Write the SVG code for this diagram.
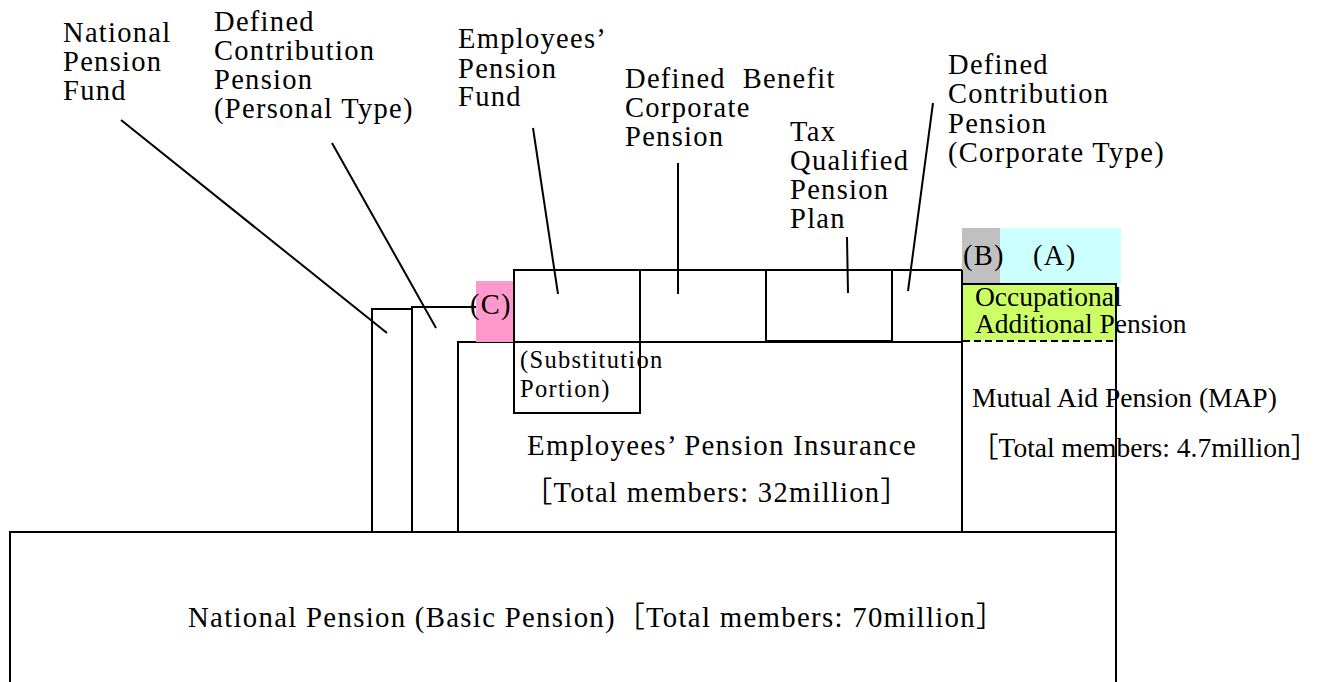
<svg xmlns="http://www.w3.org/2000/svg" width="1323" height="682" viewBox="0 0 1323 682">
<style>
.box{fill:none;stroke:#000;stroke-width:2}
.wbox{fill:#fff;stroke:#000;stroke-width:2}
.ln{stroke:#000;stroke-width:2;fill:none}
.c{font-family:"Liberation Serif","Noto Sans CJK JP",serif;font-size:28.5px;letter-spacing:1.3px;fill:#000}
.t{font-family:"Liberation Serif","Noto Sans CJK JP",serif;font-size:27.5px;fill:#000}
.s{font-family:"Liberation Serif","Noto Sans CJK JP",serif;font-size:24.5px;letter-spacing:1.3px;fill:#000}
</style>
<rect width="1323" height="682" fill="#fff"/>

<g id="national-pension">
<rect class="box" x="10" y="532" width="1106" height="160"/>
<text class="c" x="188" y="627" textLength="818" lengthAdjust="spacingAndGlyphs">National Pension (Basic Pension)［Total members: 70million］</text>
</g>

<g id="national-pension-fund">
<rect class="box" x="372" y="309" width="40" height="223"/>
</g>

<g id="dc-personal">
<polyline class="ln" points="412,532 412,307 476,307"/>
</g>

<g id="employees-pension-insurance">
<rect class="wbox" x="458" y="342" width="504" height="190"/>
<text class="c" x="527" y="455" textLength="390" lengthAdjust="spacingAndGlyphs">Employees’ Pension Insurance</text>
<text class="c" x="717" y="502" text-anchor="middle">［Total members: 32million］</text>
</g>

<g id="label-c">
<rect x="476" y="281" width="38" height="61" fill="#FF99CC"/>
<text class="c" x="470" y="314">(C)</text>
</g>

<g id="employees-pension-fund">
<rect class="box" x="514" y="270" width="126" height="72"/>
</g>
<g id="substitution-portion">
<rect class="box" x="514" y="342" width="126" height="71"/>
<text class="s" x="520" y="368">(Substitution</text>
<text class="s" x="520" y="397">Portion)</text>
</g>
<g id="defined-benefit">
<rect class="box" x="640" y="270" width="126" height="72"/>
</g>
<g id="tax-qualified">
<rect class="box" x="766" y="270" width="126" height="71"/>
</g>
<g id="dc-corporate">
<rect class="box" x="892" y="270" width="70" height="72"/>
</g>

<g id="mutual-aid-pension">
<rect x="963" y="284" width="153" height="57" fill="#CCFF66"/>
<rect x="962" y="228" width="38" height="56" fill="#C0C0C0"/>
<rect x="1000" y="228" width="121" height="56" fill="#CCFFFF"/>
<text class="c" x="963" y="265">(B)</text>
<text class="c" x="1033" y="265">(A)</text>
<polyline class="ln" points="962,270 962,532"/>
<polyline class="ln" points="962,284 1116,284 1116,532 962,532"/>
<line class="ln" x1="963" y1="341" x2="1116" y2="341" stroke-dasharray="7,4"/>
<text class="t" x="975" y="306">Occupational</text>
<text class="t" x="975" y="333">Additional Pension</text>
<text class="t" x="972" y="407">Mutual Aid Pension (MAP)</text>
<text class="t" x="971" y="457">［Total members: 4.7million］</text>
</g>

<g id="labels">
<text class="c"><tspan x="63" y="42">National</tspan><tspan x="63" y="71">Pension</tspan><tspan x="63" y="100">Fund</tspan></text>
<text class="c"><tspan x="214" y="31">Defined</tspan><tspan x="214" y="60">Contribution</tspan><tspan x="214" y="89">Pension</tspan><tspan x="214" y="118">(Personal Type)</tspan></text>
<text class="c"><tspan x="458" y="48">Employees’</tspan><tspan x="458" y="78">Pension</tspan><tspan x="458" y="106">Fund</tspan></text>
<text class="c" style="white-space:pre"><tspan x="625" y="88">Defined  Benefit</tspan><tspan x="625" y="117">Corporate</tspan><tspan x="625" y="146">Pension</tspan></text>
<text class="c"><tspan x="790" y="141">Tax</tspan><tspan x="790" y="170">Qualified</tspan><tspan x="790" y="199">Pension</tspan><tspan x="790" y="228">Plan</tspan></text>
<text class="c"><tspan x="948" y="74">Defined</tspan><tspan x="948" y="103">Contribution</tspan><tspan x="948" y="133">Pension</tspan><tspan x="948" y="162">(Corporate Type)</tspan></text>
</g>

<g id="connectors">
<line class="ln" x1="121" y1="120" x2="387" y2="333"/>
<line class="ln" x1="332" y1="143" x2="436" y2="328"/>
<line class="ln" x1="533" y1="128" x2="558" y2="294"/>
<line class="ln" x1="678" y1="163" x2="678" y2="294"/>
<line class="ln" x1="847" y1="237" x2="848" y2="293"/>
<line class="ln" x1="933" y1="103" x2="908" y2="291"/>
</g>
</svg>
